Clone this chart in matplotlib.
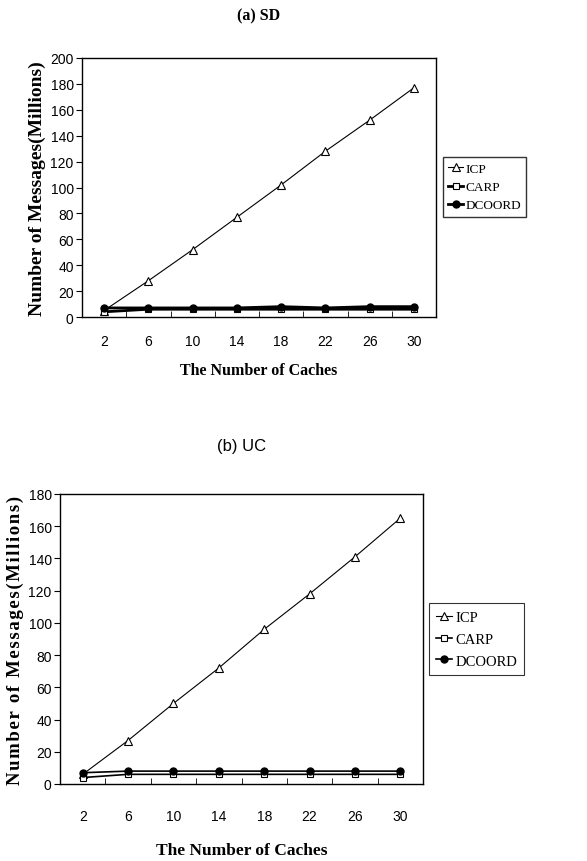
import matplotlib
matplotlib.use("Agg")
import matplotlib.pyplot as plt
import numpy as np

caches = [2, 6, 10, 14, 18, 22, 26, 30]

# (a) SD
sd_icp = [5, 28, 52, 77, 102, 128, 152, 177]
sd_carp = [4, 6, 6, 6, 6, 6, 6, 6]
sd_dcoord = [7, 7, 7, 7, 8, 7, 8, 8]

# (b) UC
uc_icp = [6, 27, 50, 72, 96, 118, 141, 165]
uc_carp = [4, 6, 6, 6, 6, 6, 6, 6]
uc_dcoord = [7, 8, 8, 8, 8, 8, 8, 8]

SERIF = ["Liberation Serif", "DejaVu Serif"]
SANS = "Liberation Sans"

fig = plt.figure(figsize=(5.87, 8.62), dpi=100)
W, H = 587, 862


def box(l, t, r, b):
    return [l / W, 1 - b / H, (r - l) / W, (b - t) / H]


def panel(ax, icp, carp, dcoord, ymax, lw_flat, ylab, ylab_fs, xlab_fs, xpad, xlpad):
    x = np.arange(len(caches))
    ax.plot(x, icp, '-', color='k', lw=0.8, marker='^', ms=6, mfc='white',
            mec='k', mew=0.8, label='ICP')
    ax.plot(x, carp, '-', color='k', lw=lw_flat, marker='s', ms=4.5, mfc='white',
            mec='k', mew=0.8, label='CARP')
    ax.plot(x, dcoord, '-', color='k', lw=lw_flat, marker='o', ms=5, mfc='k',
            mec='k', label='DCOORD')
    ax.set_xlim(-0.5, len(caches) - 0.5)
    ax.set_ylim(0, ymax)
    ax.set_yticks(np.arange(0, ymax + 1, 20))
    ax.set_xticks(x)
    ax.set_xticklabels([str(c) for c in caches])
    ax.set_xticks(np.arange(0.5, len(caches) - 1, 1), minor=True)
    ax.tick_params(axis='x', which='major', length=0, pad=xpad)
    ax.tick_params(axis='x', which='minor', length=4, direction='in')
    ax.tick_params(axis='y', length=4, direction='out', pad=2)
    for lab in ax.get_xticklabels() + ax.get_yticklabels():
        lab.set_fontfamily(SANS)
        lab.set_fontsize(10)
    for s in ax.spines.values():
        s.set_linewidth(1.0)
    ax.set_ylabel(ylab, family=SERIF, fontweight='bold', fontsize=ylab_fs, labelpad=3)
    ax.set_xlabel("The Number of Caches", family=SERIF, fontweight='bold',
                  fontsize=xlab_fs, labelpad=xlpad)


# ---- (a) SD ----
axA = fig.add_axes(box(82, 59, 436, 318))
panel(axA, sd_icp, sd_carp, sd_dcoord, 200, 2.0,
      "Number of Messages(Millions)", 14, 11.5, 12, 10)
fig.text(0.5 * (82 + 436) / W, 1 - 16 / H, "(a) SD", ha='center', va='center',
         family=SERIF, fontweight='bold', fontsize=11.5)
legA = axA.legend(loc='center left', bbox_to_anchor=(443 / W, 1 - 188 / H),
                  bbox_transform=fig.transFigure, frameon=True, fancybox=False,
                  prop={'family': SERIF, 'size': 9.5}, handlelength=1.1,
                  handletextpad=0.2, borderpad=0.4, labelspacing=0.45,
                  borderaxespad=0)
legA.get_frame().set_edgecolor('k')
legA.get_frame().set_linewidth(1.0)

# ---- (b) UC ----
hair = "\u200a"
ylabB = hair.join("Number of Messages(Millions)")
axB = fig.add_axes(box(60, 495, 423, 785))
panel(axB, uc_icp, uc_carp, uc_dcoord, 180, 1.2,
      ylabB, 13.5, 12.5, 18, 14)
fig.text(0.5 * (60 + 423) / W, 1 - 447 / H, "(b) UC", ha='center', va='center',
         family=SANS, fontsize=12)
legB = axB.legend(loc='center left', bbox_to_anchor=(429 / W, 1 - 640 / H),
                  bbox_transform=fig.transFigure, frameon=True, fancybox=False,
                  prop={'family': SERIF, 'size': 10.5}, handlelength=1.1,
                  handletextpad=0.2, borderpad=0.5, labelspacing=0.6,
                  borderaxespad=0)
legB.get_frame().set_edgecolor('k')
legB.get_frame().set_linewidth(0.8)

fig.savefig("out.png", dpi=100)
